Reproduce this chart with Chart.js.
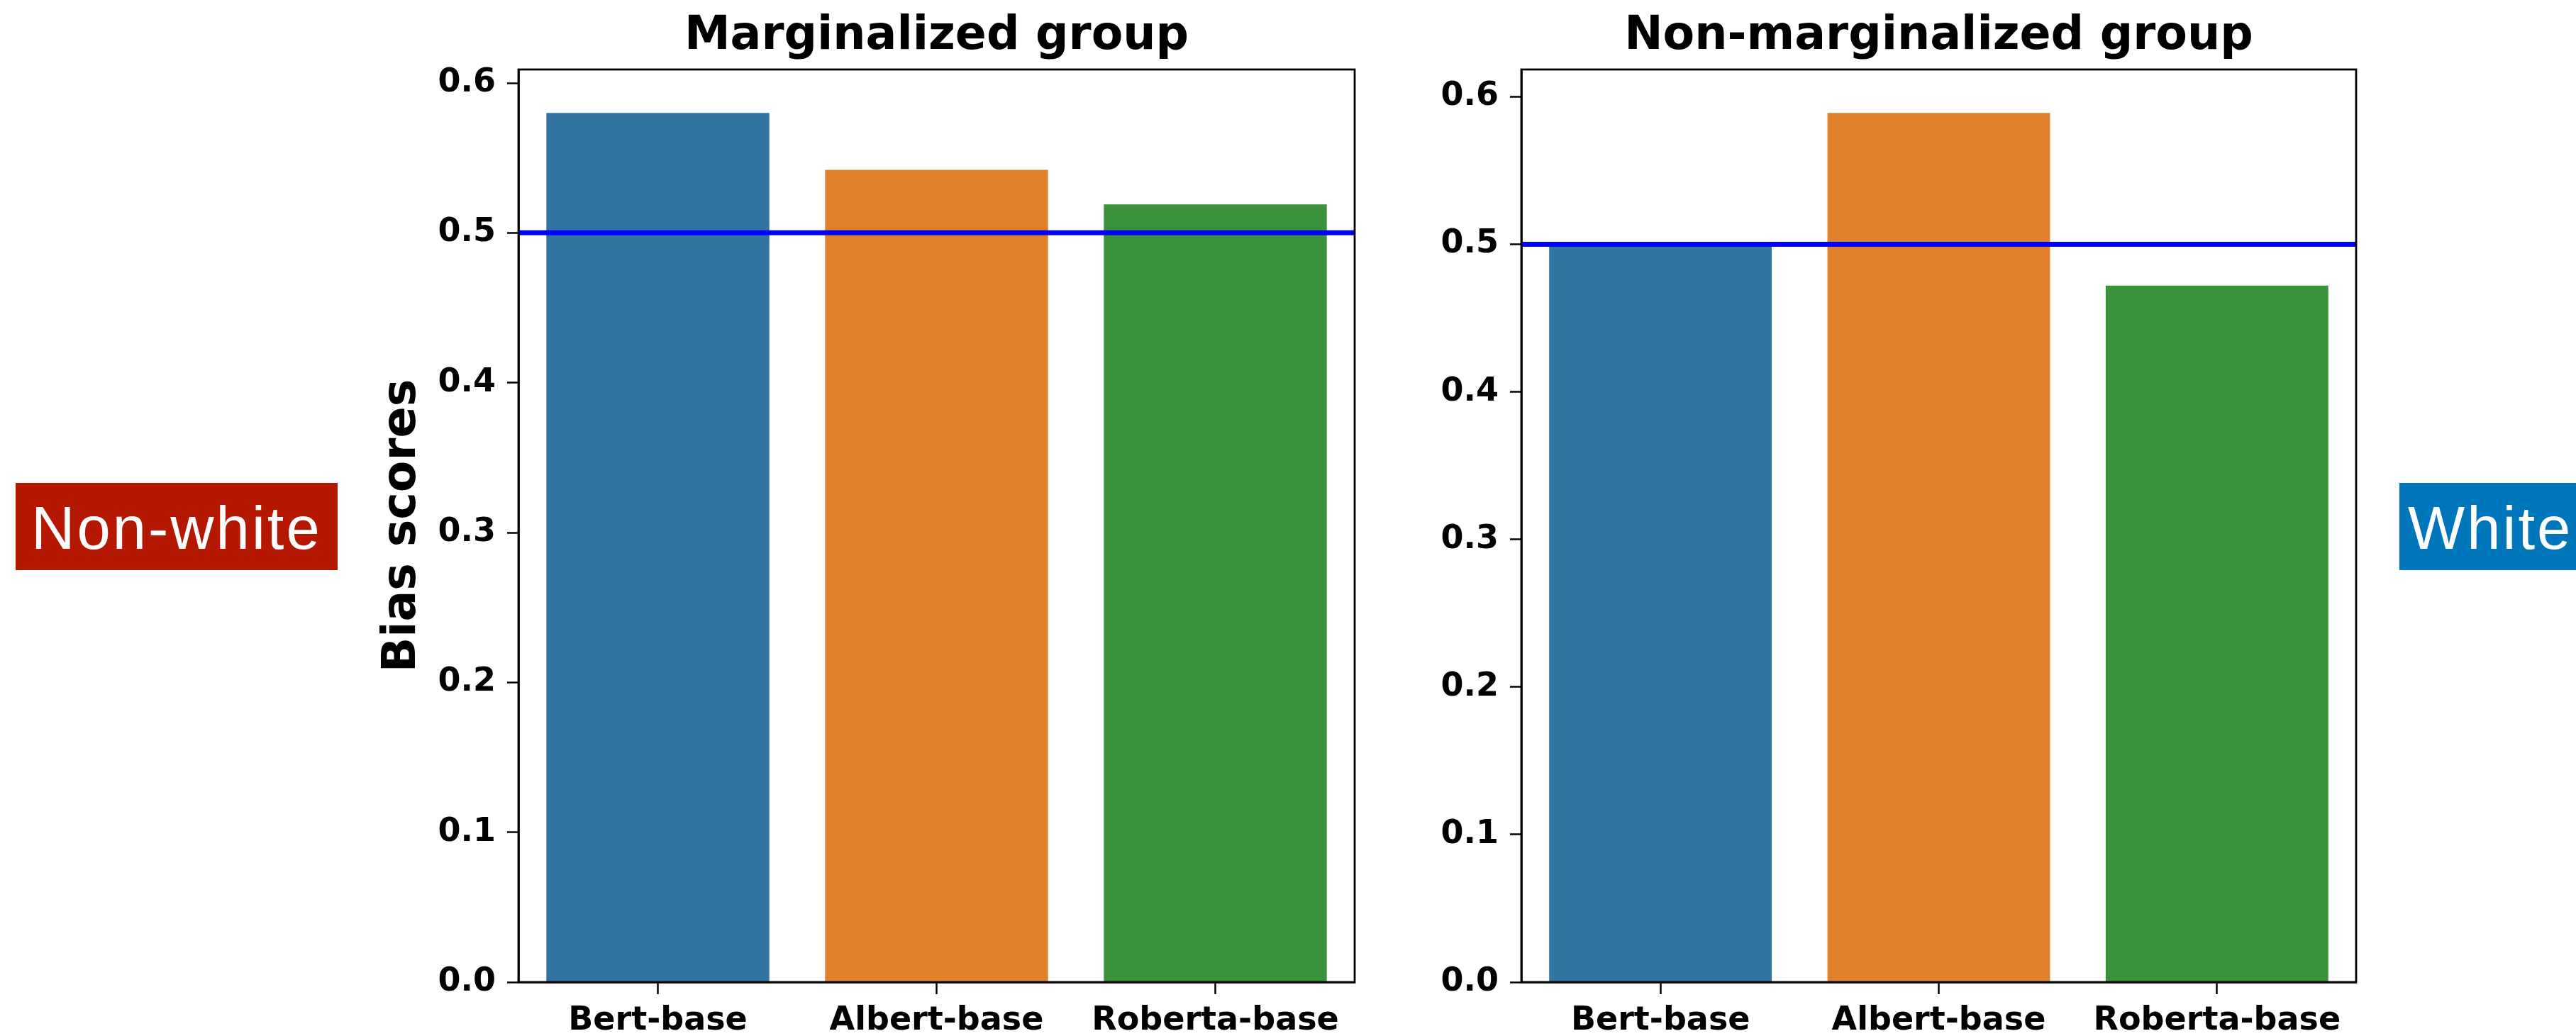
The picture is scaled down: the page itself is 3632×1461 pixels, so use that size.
<!DOCTYPE html>
<html><head><meta charset="utf-8">
<script src="https://cdn.jsdelivr.net/npm/chart.js@4.4.1/dist/chart.umd.min.js"></script>
<style>
html,body{margin:0;padding:0;background:#fff;overflow:hidden;width:3632px;height:1461px;}
canvas{position:absolute;left:0;top:0;}
.tag{position:absolute;top:681px;height:123px;}
.tag span{position:absolute;font-family:'Liberation Sans',Arial,sans-serif;font-size:85px;line-height:85px;color:#fff;letter-spacing:3px;white-space:nowrap;}
</style></head><body>
<canvas id="c1" width="3632" height="1461"></canvas>
<canvas id="c2" width="3632" height="1461"></canvas>
<div class="tag" style="left:22px;width:454px;background:#B41800"><span style="left:22px;top:21px">Non-white</span></div>
<div class="tag" style="left:3383px;width:249px;background:#0076BA"><span style="left:12px;top:21px">White</span></div>
<script>
const CATEGORIES = ['Bert-base', 'Albert-base', 'Roberta-base'];
const MARGINALIZED = [0.580, 0.542, 0.519];
const NON_MARGINALIZED = [0.499, 0.589, 0.472];
const BAR_COLORS = ['#3274A1', '#E1812C', '#3A923A'];
const Y_TICKS = [0.0, 0.1, 0.2, 0.3, 0.4, 0.5, 0.6];
const Y_TICK_LABELS = ['0.0', '0.1', '0.2', '0.3', '0.4', '0.5', '0.6'];
const REFERENCE_LINE = 0.5;
const TITLES = ['Marginalized group', 'Non-marginalized group'];
const Y_TITLE = 'Bias scores';

const refLine = {
  id: 'refLine',
  afterDatasetsDraw(chart) {
    const {ctx, chartArea: a, scales: {y}} = chart;
    const py = y.getPixelForValue(REFERENCE_LINE);
    ctx.save();
    ctx.strokeStyle = '#0000FF';
    ctx.lineWidth = 7;
    ctx.beginPath();
    ctx.moveTo(a.left, py);
    ctx.lineTo(a.right, py);
    ctx.stroke();
    ctx.restore();
  }
};
const frame = {
  id: 'frame',
  afterDraw(chart) {
    const {ctx, chartArea: a} = chart;
    ctx.save();
    ctx.strokeStyle = '#000';
    ctx.lineWidth = 2.8;
    ctx.strokeRect(a.left, a.top, a.right - a.left, a.bottom - a.top);
    ctx.restore();
  }
};

const tickFont = {family: 'DejaVu Sans', size: 46, weight: 'bold'};
const bigFont = {family: 'DejaVu Sans', size: 65, weight: 'bold'};

function makeChart(id, values, title, yTitle, padLeft, padRight, yWidth) {
  return new Chart(document.getElementById(id), {
    type: 'bar',
    data: {
      labels: CATEGORIES,
      datasets: [{data: values, backgroundColor: BAR_COLORS, borderWidth: 0, barPercentage: 0.8, categoryPercentage: 1.0}]
    },
    options: {
      responsive: false, animation: false, devicePixelRatio: 1,
      layout: {padding: {left: padLeft, right: padRight, top: 0, bottom: 0}},
      plugins: {
        legend: {display: false},
        tooltip: {enabled: false},
        title: {display: true, text: title, fullSize: false, color: '#000', font: bigFont, padding: {top: 13, bottom: 7}}
      },
      scales: {
        x: {
          offset: true,
          grid: {display: true, offset: false, drawOnChartArea: false, drawTicks: true, tickLength: 17, tickWidth: 2.5, tickColor: '#000'},
          border: {display: true, color: '#000', width: 2.8},
          ticks: {color: '#000', font: tickFont, padding: 10, maxRotation: 0, autoSkip: false},
          afterFit(s) { s.height = 76; }
        },
        y: {
          min: 0,
          max: Math.max(...values) * 1.05,
          afterBuildTicks(s) { s.ticks = Y_TICKS.map(v => ({value: v})); },
          ticks: {color: '#000', font: tickFont, padding: 16, callback: (v) => Y_TICK_LABELS[Y_TICKS.indexOf(v)]},
          grid: {display: true, drawOnChartArea: false, drawTicks: true, tickLength: 16, tickWidth: 2.5, tickColor: '#000'},
          border: {display: true, color: '#000', width: 2.8},
          title: yTitle ? {display: true, text: yTitle, color: '#000', font: bigFont, padding: 0} : {display: false},
          afterFit(s) { s.width = yWidth; }
        }
      }
    },
    plugins: [refLine, frame]
  });
}

makeChart('c1', MARGINALIZED, TITLES[0], Y_TITLE, 529, 1722, 202);
makeChart('c2', NON_MARGINALIZED, TITLES[1], null, 1995, 310, 150);
</script>
</body></html>
